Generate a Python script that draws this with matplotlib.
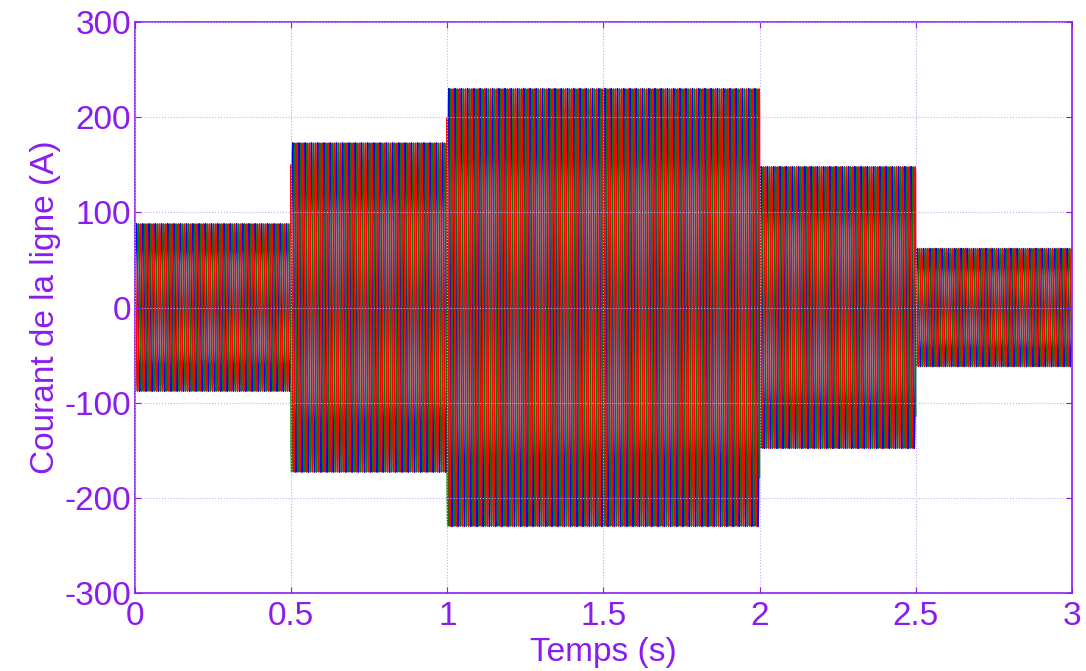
import numpy as np
import matplotlib
matplotlib.use("Agg")
import matplotlib.pyplot as plt

plt.rcParams["axes.unicode_minus"] = False

# load steps: start/end times (s) and peak line current (A)
seg_start = [0.0, 0.5, 1.0, 2.0, 2.5]
seg_end = [0.5, 1.0, 2.0, 2.5, 3.0]
seg_peak = [88, 173, 230, 148, 62]
freq = 50.0  # Hz
phases = [0.0, -120.0, 120.0]  # deg, phases a b c
phase_colors = ["blue", "green", "red"]

purple = "#8a1cf0"

t = np.arange(0, 3.0, 5e-4)
amp = np.zeros_like(t)
for s, e, a in zip(seg_start, seg_end, seg_peak):
    amp[(t >= s) & (t < e)] = a

fig = plt.figure(figsize=(10.86, 6.71), dpi=100)
ax = fig.add_axes([0.1243, 0.1162, 0.8627, 0.8510])

for ph, col in zip(phases, phase_colors):
    i = amp * np.sin(2 * np.pi * freq * t + np.deg2rad(ph))
    ax.plot(t, i, color=col, lw=1.1)

ax.set_xlim(0, 3)
ax.set_ylim(-300, 300)
ax.set_xticks([0, 0.5, 1, 1.5, 2, 2.5, 3])
ax.set_xticklabels(["0", "0.5", "1", "1.5", "2", "2.5", "3"])
ax.set_yticks([-300, -200, -100, 0, 100, 200, 300])
ax.grid(True, color="#c9a6f5", linestyle=":", linewidth=0.8)
ax.set_axisbelow(False)

for sp in ax.spines.values():
    sp.set_color(purple)
    sp.set_linewidth(1.2)
ax.tick_params(colors=purple, labelsize=24, direction="in", length=4,
               top=True, right=True, pad=3)
ax.tick_params(axis="x", pad=6)
for lab in ax.get_xticklabels() + ax.get_yticklabels():
    lab.set_fontfamily("Liberation Sans")

ax.set_xlabel("Temps (s)", color=purple, fontsize=24, family="Liberation Sans",
              labelpad=3)
ax.set_ylabel("Courant de la ligne (A)", color=purple, fontsize=24,
              family="Liberation Sans", labelpad=2)

fig.savefig("out.png", dpi=100)
